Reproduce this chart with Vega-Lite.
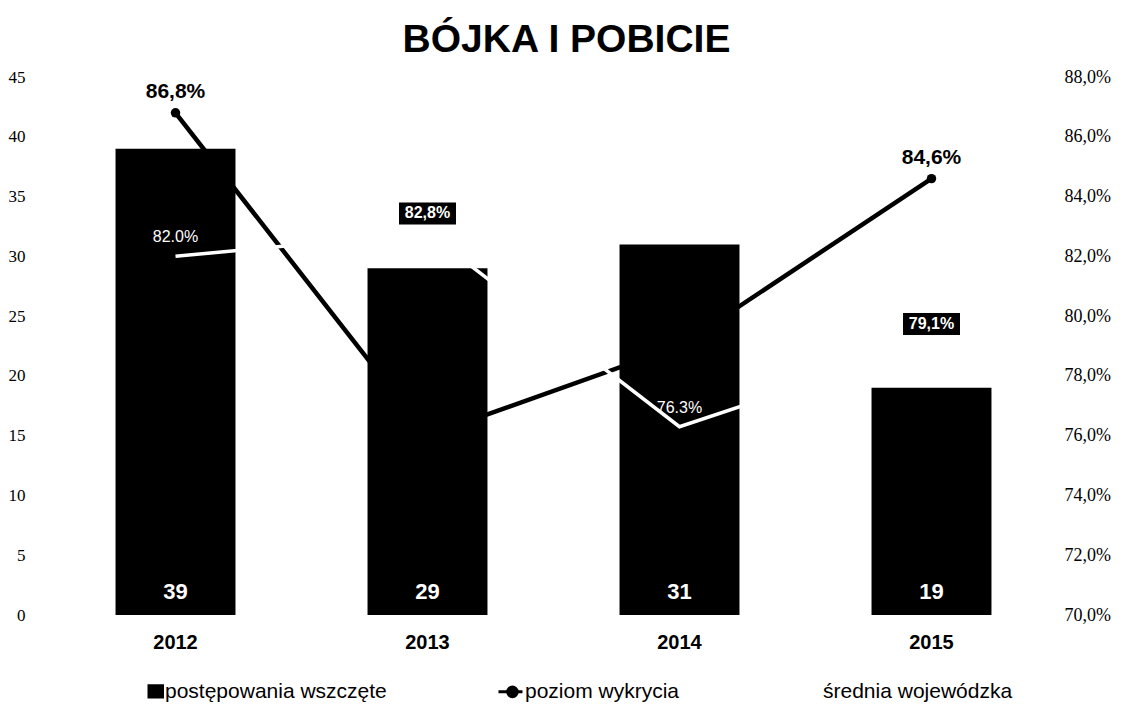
{
  "$schema": "https://vega.github.io/schema/vega-lite/v6.json",
  "width": 1009,
  "height": 538,
  "autosize": {"type": "none"},
  "padding": {"left": 49, "top": 77, "right": 74, "bottom": 98},
  "background": "#ffffff",
  "title": {
    "text": "BÓJKA I POBICIE",
    "fontSize": 39,
    "fontWeight": "bold",
    "font": "Liberation Sans",
    "color": "#000000",
    "anchor": "middle",
    "dx": 13,
    "offset": 8
  },
  "config": {
    "view": {"stroke": null},
    "font": "Liberation Sans",
    "axis": {"domain": false, "ticks": false, "grid": false, "labelColor": "#000000"}
  },
  "data": {
    "values": [
      {"rok": "2012", "postepowania": 39, "wykrycie": 0.868, "srednia": 0.820, "etykietaWykrycie": "86,8%", "etykietaSrednia": "82.0%", "styl": "zwykly"},
      {"rok": "2013", "postepowania": 29, "wykrycie": 0.760, "srednia": 0.828, "etykietaWykrycie": "", "etykietaSrednia": "82,8%", "styl": "ramka"},
      {"rok": "2014", "postepowania": 31, "wykrycie": 0.790, "srednia": 0.763, "etykietaWykrycie": "", "etykietaSrednia": "76.3%", "styl": "zwykly"},
      {"rok": "2015", "postepowania": 19, "wykrycie": 0.846, "srednia": 0.791, "etykietaWykrycie": "84,6%", "etykietaSrednia": "79,1%", "styl": "ramka"}
    ]
  },
  "encoding": {
    "x": {
      "field": "rok",
      "type": "ordinal",
      "scale": {"paddingInner": 0.524, "paddingOuter": 0.264},
      "axis": {
        "title": null,
        "labelAngle": 0,
        "labelFontSize": 20,
        "labelFontWeight": "bold",
        "labelFont": "Liberation Sans",
        "labelPadding": 17
      }
    }
  },
  "layer": [
    {
      "encoding": {
        "y": {
          "field": "postepowania",
          "type": "quantitative",
          "title": null,
          "scale": {"domain": [0, 45], "nice": false},
          "axis": {
            "orient": "left",
            "title": null,
            "values": [0, 5, 10, 15, 20, 25, 30, 35, 40, 45],
            "labelFont": "Liberation Serif",
            "labelFontSize": 17,
            "labelPadding": 24
          }
        }
      },
      "layer": [
        {
          "mark": {"type": "bar"},
          "encoding": {
            "color": {
              "datum": "postępowania wszczęte",
              "type": "nominal",
              "scale": {
                "domain": ["postępowania wszczęte", "poziom wykrycia", "średnia wojewódzka"],
                "range": ["#000000", "#000000", "#ffffff"]
              },
              "legend": {
                "orient": "none",
                "legendX": 82,
                "legendY": 598,
                "direction": "horizontal",
                "title": null,
                "labelFontSize": 21,
                "labelFont": "Liberation Sans",
                "labelColor": "#000000",
                "labelLimit": 400,
                "symbolSize": 900,
                "labelOffset": 1,
                "columnPadding": 104,
                "encode": {
                  "symbols": {
                    "update": {
                      "shape": {"signal": "datum.value === 'postępowania wszczęte' ? 'M0.1,-0.4H1V0.35H0.1Z' : (datum.value === 'poziom wykrycia' ? 'M-0.6,0H1M0.65,0A0.32,0.32 0 1,1 0.01,0A0.32,0.32 0 1,1 0.65,0' : 'stroke')"},
                      "fill": {"signal": "datum.value === 'średnia wojewódzka' ? '#ffffff' : '#000000'"},
                      "stroke": {"signal": "datum.value === 'średnia wojewódzka' ? '#ffffff' : '#000000'"},
                      "strokeWidth": {"value": 3},
                      "opacity": {"value": 1},
                      "fillOpacity": {"value": 1},
                      "strokeOpacity": {"value": 1}
                    }
                  }
                }
              }
            }
          }
        },
        {
          "mark": {"type": "text", "color": "#ffffff", "fontWeight": "bold", "fontSize": 22, "baseline": "middle", "dy": -23},
          "encoding": {
            "y": {"datum": 0, "type": "quantitative"},
            "text": {"field": "postepowania", "type": "quantitative"}
          }
        }
      ]
    },
    {
      "layer": [
        {
          "mark": {"type": "line", "strokeWidth": 4.5, "point": {"filled": true, "size": 90}},
          "encoding": {
            "y": {
              "field": "wykrycie",
              "type": "quantitative",
              "title": null,
              "scale": {"domain": [0.70, 0.88], "nice": false, "zero": false},
              "axis": {
                "orient": "right",
                "title": null,
                "values": [0.70, 0.72, 0.74, 0.76, 0.78, 0.80, 0.82, 0.84, 0.86, 0.88],
                "labelExpr": "replace(format(datum.value, '.1%'), '.', ',')",
                "labelFont": "Liberation Serif",
                "labelFontSize": 18,
                "labelPadding": 6
              }
            },
            "color": {"datum": "poziom wykrycia", "type": "nominal"}
          }
        },
        {
          "mark": {"type": "line", "strokeWidth": 3.5},
          "encoding": {
            "y": {"field": "srednia", "type": "quantitative", "title": null},
            "color": {"datum": "średnia wojewódzka", "type": "nominal"}
          }
        },
        {
          "mark": {"type": "text", "color": "#000000", "fontWeight": "bold", "fontSize": 21, "baseline": "middle", "dy": -21},
          "encoding": {
            "y": {"field": "wykrycie", "type": "quantitative", "title": null},
            "text": {"field": "etykietaWykrycie", "type": "nominal"}
          }
        },
        {
          "transform": [{"filter": "datum.styl === 'ramka'"}],
          "mark": {"type": "point", "shape": "M-1,-0.386H1V0.386H-1Z", "filled": true, "color": "#000000", "opacity": 1, "size": 3249, "yOffset": -19},
          "encoding": {
            "y": {"field": "srednia", "type": "quantitative", "title": null}
          }
        },
        {
          "transform": [{"filter": "datum.styl === 'ramka'"}],
          "mark": {"type": "text", "color": "#ffffff", "fontWeight": "bold", "fontSize": 16, "baseline": "middle", "dy": -19},
          "encoding": {
            "y": {"field": "srednia", "type": "quantitative", "title": null},
            "text": {"field": "etykietaSrednia", "type": "nominal"}
          }
        },
        {
          "transform": [{"filter": "datum.styl === 'zwykly'"}],
          "mark": {"type": "text", "color": "#ffffff", "fontSize": 16, "baseline": "middle", "dy": -19},
          "encoding": {
            "y": {"field": "srednia", "type": "quantitative", "title": null},
            "text": {"field": "etykietaSrednia", "type": "nominal"}
          }
        }
      ]
    }
  ],
  "resolve": {"scale": {"y": "independent"}}
}
